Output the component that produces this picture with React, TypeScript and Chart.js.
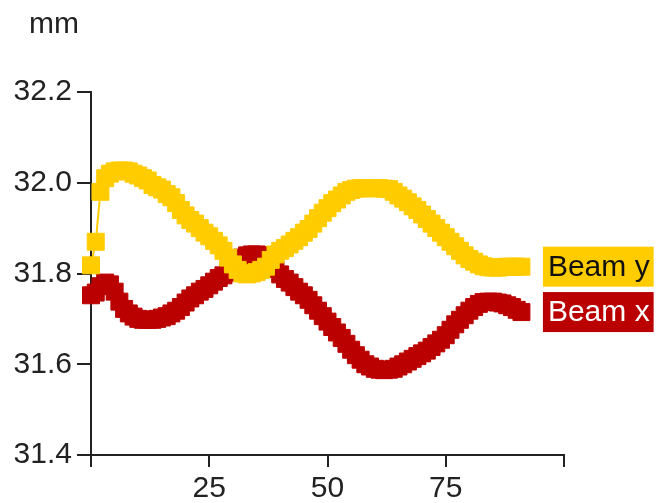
import React, { useEffect, useRef } from 'react';
import { Chart, registerables } from 'chart.js';

Chart.register(...registerables);

const xValues = [
  0, 1, 2, 3, 4, 5, 6, 7, 8, 9, 10, 11, 12, 13, 14, 15, 16, 17, 18, 19,
  20, 21, 22, 23, 24, 25, 26, 27, 28, 29, 30, 31, 32, 33, 34, 35, 36, 37, 38, 39,
  40, 41, 42, 43, 44, 45, 46, 47, 48, 49, 50, 51, 52, 53, 54, 55, 56, 57, 58, 59,
  60, 61, 62, 63, 64, 65, 66, 67, 68, 69, 70, 71, 72, 73, 74, 75, 76, 77, 78, 79,
  80, 81, 82, 83, 84, 85, 86, 87, 88, 89, 90, 91,
];

const beamY = [
  31.818, 31.870, 31.980, 32.010, 32.020, 32.025, 32.027, 32.027, 32.025, 32.020,
  32.016, 32.010, 32.005, 31.995, 31.990, 31.985, 31.975, 31.968, 31.955, 31.940,
  31.928, 31.918, 31.910, 31.900, 31.890, 31.882, 31.872, 31.862, 31.850, 31.835,
  31.820, 31.808, 31.800, 31.798, 31.800, 31.803, 31.808, 31.815, 31.830, 31.842,
  31.850, 31.856, 31.864, 31.872, 31.880, 31.890, 31.898, 31.910, 31.922, 31.934,
  31.944, 31.955, 31.963, 31.972, 31.980, 31.984, 31.987, 31.988, 31.988, 31.988,
  31.988, 31.988, 31.987, 31.986, 31.980, 31.972, 31.965, 31.957, 31.948, 31.940,
  31.930, 31.920, 31.910, 31.900, 31.890, 31.880, 31.870, 31.860, 31.850, 31.840,
  31.832, 31.826, 31.820, 31.816, 31.814, 31.813, 31.813, 31.814, 31.815, 31.815,
  31.815, 31.815,
];

const beamX = [
  31.752, 31.758, 31.772, 31.780, 31.776, 31.760, 31.738, 31.722, 31.712, 31.705,
  31.700, 31.698, 31.698, 31.698, 31.700, 31.703, 31.706, 31.712, 31.718, 31.726,
  31.736, 31.745, 31.752, 31.760, 31.766, 31.774, 31.782, 31.790, 31.796, 31.802,
  31.812, 31.825, 31.835, 31.840, 31.842, 31.842, 31.840, 31.832, 31.822, 31.810,
  31.798, 31.788, 31.780, 31.770, 31.760, 31.752, 31.742, 31.730, 31.718, 31.706,
  31.694, 31.682, 31.670, 31.658, 31.645, 31.632, 31.620, 31.610, 31.600, 31.595,
  31.590, 31.588, 31.587, 31.588, 31.590, 31.595, 31.600, 31.606, 31.612, 31.618,
  31.624, 31.630, 31.638, 31.646, 31.654, 31.664, 31.676, 31.688, 31.698, 31.708,
  31.718, 31.726, 31.733, 31.737, 31.738, 31.738, 31.736, 31.734, 31.730, 31.726,
  31.720, 31.715,
];

const seriesNames = ['Beam y', 'Beam x'];
const seriesColors = ['#FFCC00', '#BB0000'];
const labelTextColors = ['#111111', '#FFFFFF'];
const unitLabel = 'mm';
const yMin = 31.4;
const yMax = 32.2;
const yStep = 0.2;
const xMin = 0;
const xMax = 100;
const xStep = 25;
const xLabelled = [25, 50, 75];

const FONT = '"Liberation Sans", Arial, sans-serif';
const INK = '#222222';

const endLabels = {
  id: 'endLabels',
  afterDatasetsDraw(chart: any) {
    const ctx = chart.ctx;
    ctx.save();
    ctx.font = `30px ${FONT}`;
    chart.data.datasets.forEach((ds: any, i: number) => {
      const meta = chart.getDatasetMeta(i);
      const last = meta.data[meta.data.length - 1];
      if (!last) return;
      const x = last.x + 21.5;
      const y = last.y;
      const w = ctx.measureText(ds.label).width + 9;
      ctx.fillStyle = seriesColors[i];
      ctx.fillRect(x, y - 20, w, 40);
      ctx.fillStyle = labelTextColors[i];
      ctx.textBaseline = 'middle';
      ctx.textAlign = 'left';
      ctx.fillText(ds.label, x + 5, y + 1);
    });
    ctx.fillStyle = INK;
    ctx.textBaseline = 'alphabetic';
    ctx.textAlign = 'left';
    ctx.fillText(unitLabel, 29, 33);
    ctx.restore();
  },
};

export default function App() {
  const ref = useRef<HTMLCanvasElement>(null);

  useEffect(() => {
    if (!ref.current) return;
    const mk = (vals: number[]) => xValues.map((x, i) => ({ x, y: vals[i] }));
    const series = [beamY, beamX];
    const chart = new Chart(ref.current, {
      type: 'line',
      data: {
        datasets: series.map((vals, i) => ({
          label: seriesNames[i],
          data: mk(vals),
          borderColor: seriesColors[i],
          backgroundColor: seriesColors[i],
          borderWidth: 2,
          pointStyle: 'rect',
          pointRadius: 12,
          pointBorderWidth: 1,
          pointBackgroundColor: seriesColors[i],
          pointBorderColor: seriesColors[i],
          tension: 0,
          clip: false as any,
        })),
      },
      options: {
        responsive: false,
        animation: false,
        devicePixelRatio: 1,
        layout: { padding: { top: 92, right: 98, left: 0, bottom: 0 } },
        plugins: { legend: { display: false }, tooltip: { enabled: false } },
        scales: {
          x: {
            type: 'linear',
            min: xMin,
            max: xMax,
            afterFit: (s: any) => { s.height = 48; },
            grid: { drawOnChartArea: false, drawTicks: true, tickLength: 12, color: INK, lineWidth: 2 },
            border: { display: true, color: INK, width: 2 },
            ticks: {
              stepSize: xStep,
              padding: 4,
              color: INK,
              font: { family: FONT, size: 30 },
              maxRotation: 0,
              callback: (v: any) => (xLabelled.includes(Number(v)) ? String(v) : ''),
            },
          },
          y: {
            type: 'linear',
            min: yMin,
            max: yMax,
            afterFit: (s: any) => { s.width = 91; },
            grid: { drawOnChartArea: false, drawTicks: true, tickLength: 14, color: INK, lineWidth: 2 },
            border: { display: true, color: INK, width: 2 },
            ticks: {
              stepSize: yStep,
              padding: 5,
              color: INK,
              font: { family: FONT, size: 30 },
              callback: (v: any) => Number(v).toFixed(1),
            },
          },
        },
      },
      plugins: [endLabels],
    });
    return () => chart.destroy();
  }, []);

  return (
    <div style={{ position: 'absolute', left: 0, top: 0, width: 662, height: 503, background: '#fff' }}>
      <canvas ref={ref} width={662} height={503} style={{ display: 'block' }} />
    </div>
  );
}
